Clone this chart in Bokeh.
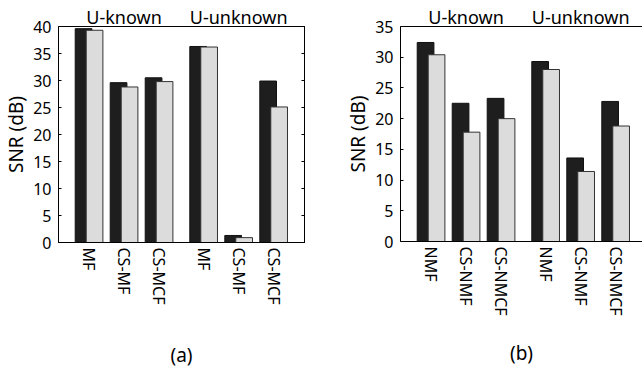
import numpy as np
from bokeh.plotting import figure
from bokeh.models import (ColumnDataSource, Range1d, LinearAxis, FixedTicker,
                          CustomJSTickFormatter)
from bokeh.layouts import row
from bokeh.embed import file_html
from bokeh.resources import INLINE
from bokeh.transform import dodge

# ---------------- data ----------------
groups = ["U-known", "U-unknown"]
cats_a = ["MF", "CS-MF", "CS-MCF", "MF", "CS-MF", "CS-MCF"]
cats_b = ["NMF", "CS-NMF", "CS-NMCF", "NMF", "CS-NMF", "CS-NMCF"]
a_dark = [39.6, 29.6, 30.5, 36.3, 1.3, 29.9]
a_light = [39.3, 28.8, 29.8, 36.2, 0.9, 25.1]
b_dark = [32.4, 22.5, 23.3, 29.3, 13.6, 22.8]
b_light = [30.4, 17.8, 20.0, 28.0, 11.4, 18.8]
a_yticks = [0, 5, 10, 15, 20, 25, 30, 35, 40]
b_yticks = [0, 5, 10, 15, 20, 25, 30, 35]
panel_labels = ["(a)", "(b)"]
y_label = "SNR (dB)"

# ---------------- style ----------------
FONT = "Noto Sans"
UNIT = 35.0      # px per category slot
GAP = 0.274      # extra gap between the two groups (slots)
BAR_W = 0.477
OFF = 0.157
LEFT_PAD = 0.873
DARK = "#1e1e1e"
LIGHT = "#dcdcdc"


def make_panel(cats, dark, light, yticks, panel, frame_w, frame_h,
               right_border, bottom_border, label_standoff, closed):
    n = len(cats)
    half = n // 2
    idx = np.arange(n)
    xpos = [float(v) for v in idx + GAP * (idx >= half)]
    group_centers = [float(np.mean(xpos[g * half:(g + 1) * half]))
                     for g in range(len(groups))]
    src = ColumnDataSource(dict(x=xpos, dark=dark, light=light))
    x0 = -LEFT_PAD
    ymax = max(yticks)
    p = figure(output_backend="svg", toolbar_location=None,
               frame_width=frame_w, frame_height=frame_h,
               x_range=Range1d(x0, x0 + frame_w / UNIT),
               y_range=Range1d(0, ymax),
               min_border_left=58, min_border_right=right_border,
               min_border_top=26, min_border_bottom=bottom_border,
               background_fill_color="white", border_fill_color="white")
    p.xgrid.visible = False
    p.ygrid.visible = False

    p.vbar(x=dodge("x", -OFF, range=p.x_range), top="dark", width=BAR_W,
           source=src, fill_color=DARK, line_color="#111111", line_width=1)
    p.vbar(x=dodge("x", OFF, range=p.x_range), top="light", width=BAR_W,
           source=src, fill_color=LIGHT, line_color="#333333", line_width=1)

    # x axis with category names
    xa = p.xaxis[0]
    xa.ticker = FixedTicker(ticks=xpos)
    xa.formatter = CustomJSTickFormatter(args=dict(labels=cats),
                                         code="return labels[index];")
    xa.major_label_orientation = "vertical"
    xa.major_label_standoff = 5
    xa.major_tick_in = 0
    xa.major_tick_out = 0
    xa.minor_tick_line_color = None
    xa.major_label_text_font = FONT
    xa.major_label_text_font_size = "16px"
    xa.major_label_text_color = "black"
    xa.axis_line_color = "black"
    xa.axis_label = panel
    xa.axis_label_standoff = label_standoff
    xa.axis_label_text_font = FONT
    xa.axis_label_text_font_size = "19px"
    xa.axis_label_text_font_style = "normal"
    xa.axis_label_text_color = "black"

    ya = p.yaxis[0]
    ya.ticker = FixedTicker(ticks=yticks)
    ya.major_tick_in = 3
    ya.major_tick_out = 0
    ya.minor_tick_line_color = None
    ya.major_label_standoff = 7
    ya.major_label_text_font = FONT
    ya.major_label_text_font_size = "16px"
    ya.major_label_text_color = "black"
    ya.axis_line_color = "black"
    ya.axis_label = y_label
    ya.axis_label_standoff = 1
    ya.axis_label_text_font = FONT
    ya.axis_label_text_font_size = "19px"
    ya.axis_label_text_font_style = "normal"
    ya.axis_label_text_color = "black"

    # top axis carrying the group names
    ta = LinearAxis(ticker=FixedTicker(ticks=group_centers),
                    formatter=CustomJSTickFormatter(args=dict(labels=groups),
                                                    code="return labels[index];"),
                    major_label_standoff=-2,
                    major_tick_in=0, major_tick_out=0,
                    minor_tick_line_color=None,
                    major_label_text_font=FONT,
                    major_label_text_font_size="18px",
                    major_label_text_color="black",
                    axis_line_color="black")
    p.add_layout(ta, "above")

    if closed:
        p.outline_line_color = "black"
        p.outline_line_alpha = 1.0
        ra = LinearAxis(ticker=FixedTicker(ticks=yticks),
                        major_label_text_color=None,
                        major_label_standoff=0,
                        major_tick_in=3, major_tick_out=0,
                        minor_tick_line_color=None,
                        axis_line_color="black")
        p.add_layout(ra, "right")
    else:
        p.outline_line_color = None
    return p


pa = make_panel(cats_a, a_dark, a_light, a_yticks, panel_labels[0],
                246, 216, 38, 131, 35, True)
pb = make_panel(cats_b, b_dark, b_light, b_yticks, panel_labels[1],
                242, 215, 0, 132, 21, False)

layout = row(pa, pb)
open("out.html", "w").write(file_html(layout, INLINE))
